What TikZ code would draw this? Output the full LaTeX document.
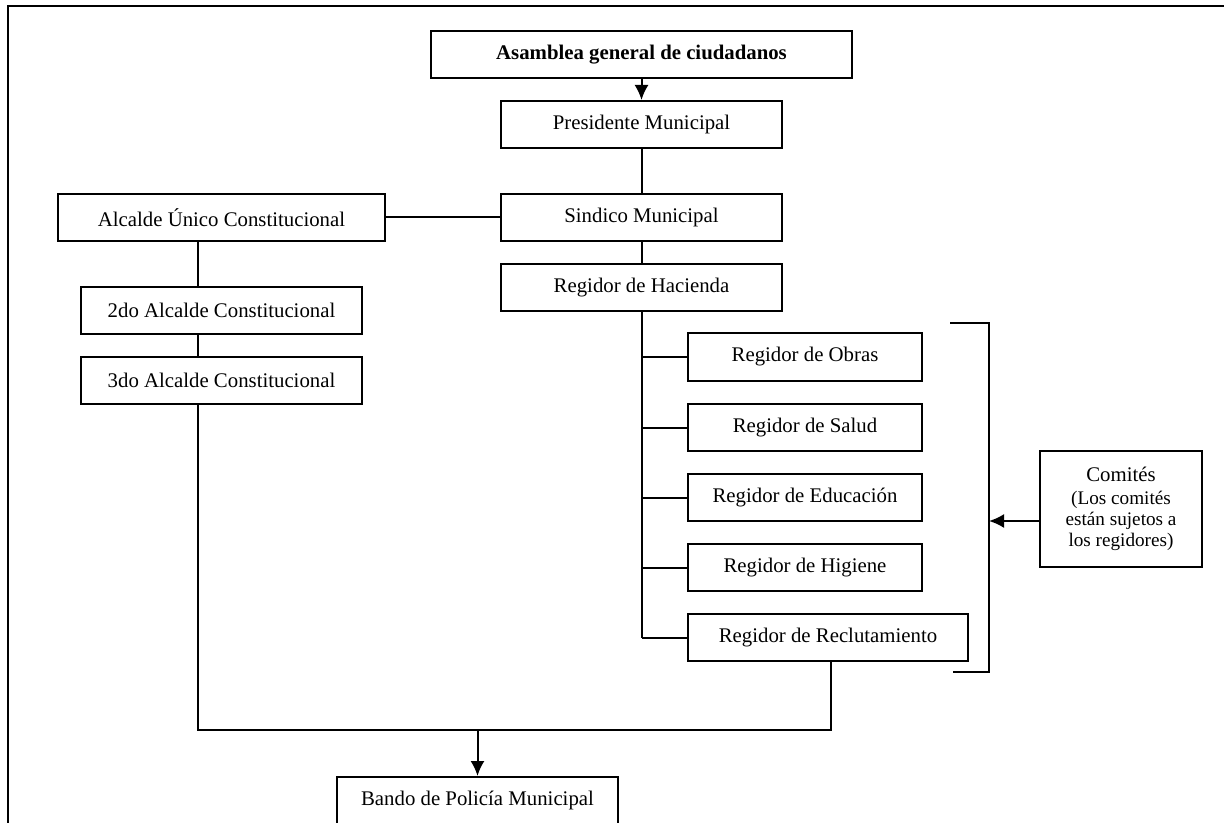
\documentclass[tikz,border=0pt]{standalone}
\usepackage{fontspec}
\setmainfont{Liberation Serif}
\usetikzlibrary{arrows.meta}
\begin{document}
\begin{tikzpicture}[x=0.5pt,y=-0.5pt,
    box/.style={draw,line width=1pt,minimum height=23.5pt,inner sep=0pt,font=\fontsize{10.4}{12}\selectfont},
    link/.style={line width=1pt},
    tip/.style={-{Latex[length=7.5pt,width=7pt]}}]
  \useasboundingbox (0,0) rectangle (1224,823);
  \draw[line width=1.2pt] (8,840) -- (8,6) -- (1240,6);
  % top chain
  \node[box,minimum width=210.5pt,font=\bfseries\fontsize{10.4}{12}\selectfont] (asamblea) at (641.5,54.5) {Asamblea general de ciudadanos};
  \node[box,minimum width=140.5pt] (presidente) at (641.5,124.5) {Presidente Municipal};
  \node[box,minimum width=140.5pt] (sindico) at (641.5,217.5) {Sindico Municipal};
  \node[box,minimum width=140.5pt] (hacienda) at (641.5,287.5) {Regidor de Hacienda};
  % alcaldes
  \node[box,minimum width=163.5pt] (alcalde) at (221.5,217.5) {Alcalde Único Constitucional};
  \node[box,minimum width=140.5pt] (alcalde2) at (221.5,310.5) {2do Alcalde Constitucional};
  \node[box,minimum width=140.5pt] (alcalde3) at (221.5,380.5) {3do Alcalde Constitucional};
  % regidores
  \node[box,minimum width=117pt,minimum height=24pt] (obras) at (805,357) {Regidor de Obras};
  \node[box,minimum width=117pt] (salud) at (805,427.5) {Regidor de Salud};
  \node[box,minimum width=117pt] (educacion) at (805,497.5) {Regidor de Educación};
  \node[box,minimum width=117pt] (higiene) at (805,567.5) {Regidor de Higiene};
  \node[box,minimum width=140pt] (reclutamiento) at (828,637.5) {Regidor de Reclutamiento};
  \node[box,minimum width=81pt,minimum height=58pt,align=center,font=\fontsize{9.6}{10.5}\selectfont] (comites) at (1121,509)
    {{\fontsize{10.4}{11}\selectfont Comités}\\[1pt](Los comités\\están sujetos a\\los regidores)};
  \node[box,minimum width=140.5pt] (bando) at (477.5,800.5) {Bando de Policía Municipal};
  % helpers
  \coordinate (colA) at (198,0);
  \coordinate (colB) at (831,0);
  \coordinate (bus) at (0,730);
  \coordinate (brace) at (989,521);
  % connectors
  \draw[link,tip] (asamblea) -- (presidente);
  \draw[link] (presidente) -- (sindico);
  \draw[link] (sindico) -- (hacienda);
  \draw[link] (alcalde.east) -- (sindico.west);
  \draw[link] (alcalde.south -| colA) -- (alcalde2.north -| colA);
  \draw[link] (alcalde2.south -| colA) -- (alcalde3.north -| colA);
  \draw[link] (hacienda.south) -- (hacienda.south |- reclutamiento.west);
  \draw[link] (hacienda.south |- obras.west) -- (obras.west);
  \draw[link] (hacienda.south |- salud.west) -- (salud.west);
  \draw[link] (hacienda.south |- educacion.west) -- (educacion.west);
  \draw[link] (hacienda.south |- higiene.west) -- (higiene.west);
  \draw[link] (hacienda.south |- reclutamiento.west) -- (reclutamiento.west);
  \draw[link] (alcalde3.south -| colA) -- (colA |- bus) -- (colB |- bus) -- (reclutamiento.south -| colB);
  \draw[link,tip] (bando.north |- bus) -- (bando.north);
  % bracket round the regidores
  \draw[link] (950,323) -- (989,323) -- (989,672) -- (953,672);
  \draw[link,tip] (comites.west |- brace) -- (brace);
\end{tikzpicture}
\end{document}
